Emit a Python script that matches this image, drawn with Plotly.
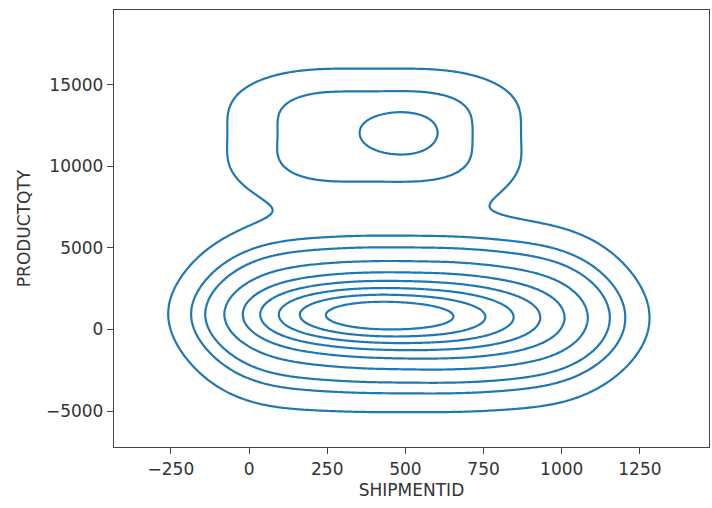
import numpy as np
import plotly.graph_objects as go

# Estimated density components (bivariate KDE of SHIPMENTID vs PRODUCTQTY),
# described as a small Gaussian mixture.
comp_x  = [80, 370, 660, 950, 80, 370, 660, 950,
           150, 400, 650, 880,
           250, 430, 620,
           200, 600, 200, 600, 487]
comp_y  = [-400, -400, -400, -400, 2200, 2200, 2200, 2200,
           1000, 900, 800, 600,
           900, 850, 750,
           10160, 10160, 13640, 13640, 12050]
comp_sx = [165, 165, 165, 165, 165, 165, 165, 165,
           190, 190, 190, 190,
           160, 160, 160,
           195, 195, 195, 195, 85]
comp_sy = [2600, 2600, 2600, 2600, 2600, 2600, 2600, 2600,
           1800, 1800, 1800, 1800,
           1000, 1000, 1000,
           1700, 1700, 1700, 1700, 850]
comp_w  = [0.05, 0.055, 0.055, 0.045, 0.05, 0.055, 0.055, 0.045,
           0.05, 0.07, 0.07, 0.05,
           0.035, 0.045, 0.03,
           0.030, 0.030, 0.030, 0.030, 0.005]

x_ticks = [-250, 0, 250, 500, 750, 1000, 1250]
y_ticks = [-5000, 0, 5000, 10000, 15000]
n_levels = 10
thresh = 0.05

xg = np.linspace(-800, 1900, 450)
yg = np.linspace(-12000, 24000, 450)
X, Y = np.meshgrid(xg, yg)
Z = np.zeros_like(X)
for cx, cy, sx, sy, w in zip(comp_x, comp_y, comp_sx, comp_sy, comp_w):
    Z += w / (2 * np.pi * sx * sy) * np.exp(-0.5 * (((X - cx) / sx) ** 2 + ((Y - cy) / sy) ** 2))

# iso-proportion transform (fraction of mass lying below each density value)
flat = Z.ravel()
order = np.argsort(flat)
cum = np.cumsum(flat[order])
cum /= cum[-1]
P = np.empty_like(flat)
P[order] = cum
P = P.reshape(Z.shape)

levels = np.linspace(thresh, 1, n_levels)
step = levels[1] - levels[0]

blue = "#1f77b4"
fig = go.Figure(go.Contour(
    x=xg, y=yg, z=P,
    contours=dict(coloring="lines", start=levels[0], end=levels[-2] + step * 0.01, size=step),
    colorscale=[[0, blue], [1, blue]],
    line=dict(width=2.2),
    showscale=False,
    hoverinfo="skip",
))

font = dict(family="DejaVu Sans", size=17, color="#333333")
axis_common = dict(
    showgrid=False, zeroline=False, showline=True, mirror=True, automargin=False,
    linecolor="#444444", linewidth=1.3, ticks="outside", ticklen=6,
    tickwidth=1.2, tickcolor="#444444", tickfont=font,
)
fig.update_layout(
    width=712, height=508, autosize=False,
    margin=dict(l=114, r=3, t=10, b=61),
    plot_bgcolor="white", paper_bgcolor="white",
    font=font, showlegend=False,
    xaxis=dict(range=[-432, 1471], tickvals=x_ticks,
               ticktext=[str(v).replace("-", "\u2212") for v in x_ticks],
               title=dict(text="SHIPMENTID", font=font, standoff=6), **axis_common),
    yaxis=dict(range=[-7200, 19577], tickvals=y_ticks,
               ticktext=[str(v).replace("-", "\u2212") for v in y_ticks],
               title=dict(text="PRODUCTQTY", font=font, standoff=10), **axis_common),
)
fig.write_html(
    "out.html",
    config={"responsive": False, "displayModeBar": False},
    post_script="document.body.style.margin='0';document.body.style.overflow='hidden';",
)
